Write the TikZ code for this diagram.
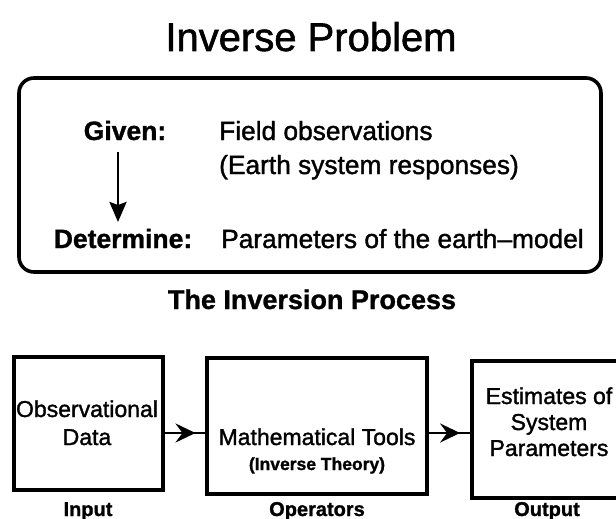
\documentclass[tikz,border=0pt]{standalone}
\usepackage{fontspec}
\setmainfont{Liberation Sans}[UprightFeatures={FakeBold=1.4},BoldFeatures={FakeBold=1.2}]
\usetikzlibrary{arrows.meta,decorations.markings}
\tikzset{
  procbox/.style={draw, line width=3.6pt},
  midarrow/.style={line width=2.8pt, postaction={decorate}, decoration={markings, mark=at position 0.76 with {\arrow{Stealth[length=20pt,width=19pt,inset=7pt]}}}},
  txt/.style={inner sep=0pt, font=\fontsize{26.3}{30}\selectfont},
  boldtxt/.style={inner sep=0pt, font=\fontsize{26.5}{30}\selectfont\bfseries},
  boxtxt/.style={inner sep=0pt, align=center, font=\fontsize{23}{26.5}\selectfont},
  lbl/.style={inner sep=0pt, font=\fontsize{20}{22}\selectfont\bfseries},
}
\begin{document}
\begin{tikzpicture}[x=1pt,y=-1pt]
\useasboundingbox (0,0) rectangle (616,519);
% title
\node[inner sep=0pt, anchor=base, font=\fontsize{40}{46}\selectfont] (title) at (311,51) {Inverse Problem};
% top rounded box
\draw[line width=3.6pt, rounded corners=15pt] (19,78) rectangle (601,272);
\node[boldtxt, anchor=base] (given) at (125,140) {Given:};
\node[txt, anchor=base west] (field) at (219,140) {Field observations};
\node[txt, anchor=base west] (earth) at (219,174) {(Earth system responses)};
\node[boldtxt, anchor=base] (det) at (123,248) {Determine:};
\node[txt, anchor=base west] (param) at (221,248) {Parameters of the earth\textendash model};
\coordinate (ga) at (118,152);
\coordinate (gb) at (118,222);
\draw[line width=2.6pt, -{Stealth[length=20pt,width=17pt,inset=3pt]}] (ga) -- (gb);
% process
\node[inner sep=0pt, anchor=base, font=\fontsize{27}{30}\selectfont\bfseries] (proc) at (312,309) {The Inversion Process};
\node[procbox, minimum width=149pt, minimum height=133pt, inner sep=0pt] (b1) at (88.5,423.5) {};
\node[procbox, minimum width=220pt, minimum height=136pt, inner sep=0pt] (b2) at (317,426) {};
\node[procbox, minimum width=160pt, minimum height=137pt, inner sep=0pt, anchor=north west] (b3) at (470,359) {};
\node[boxtxt, anchor=base] (t1a) at (87,417) {Observational};
\node[boxtxt, anchor=base] (t1b) at (87,445) {Data};
\node[boxtxt, anchor=base] (t2a) at (317,445) {Mathematical Tools};
\node[inner sep=0pt, anchor=base, font=\fontsize{17.5}{22}\selectfont\bfseries] (t2b) at (317,470) {(Inverse Theory)};
\node[boxtxt, anchor=base] (t3a) at (549,404) {Estimates of};
\node[boxtxt, anchor=base] (t3b) at (549,430) {System};
\node[boxtxt, anchor=base] (t3c) at (549,456) {Parameters};
\draw[midarrow] (b1.east |- 0,433) -- (b2.west |- 0,433);
\draw[midarrow] (b2.east |- 0,433) -- (b3.west |- 0,433);
\node[lbl, anchor=base] (in) at (88,516) {Input};
\node[lbl, anchor=base] (op) at (317,516) {Operators};
\node[lbl, anchor=base] (out) at (547,516) {Output};
\end{tikzpicture}
\end{document}
